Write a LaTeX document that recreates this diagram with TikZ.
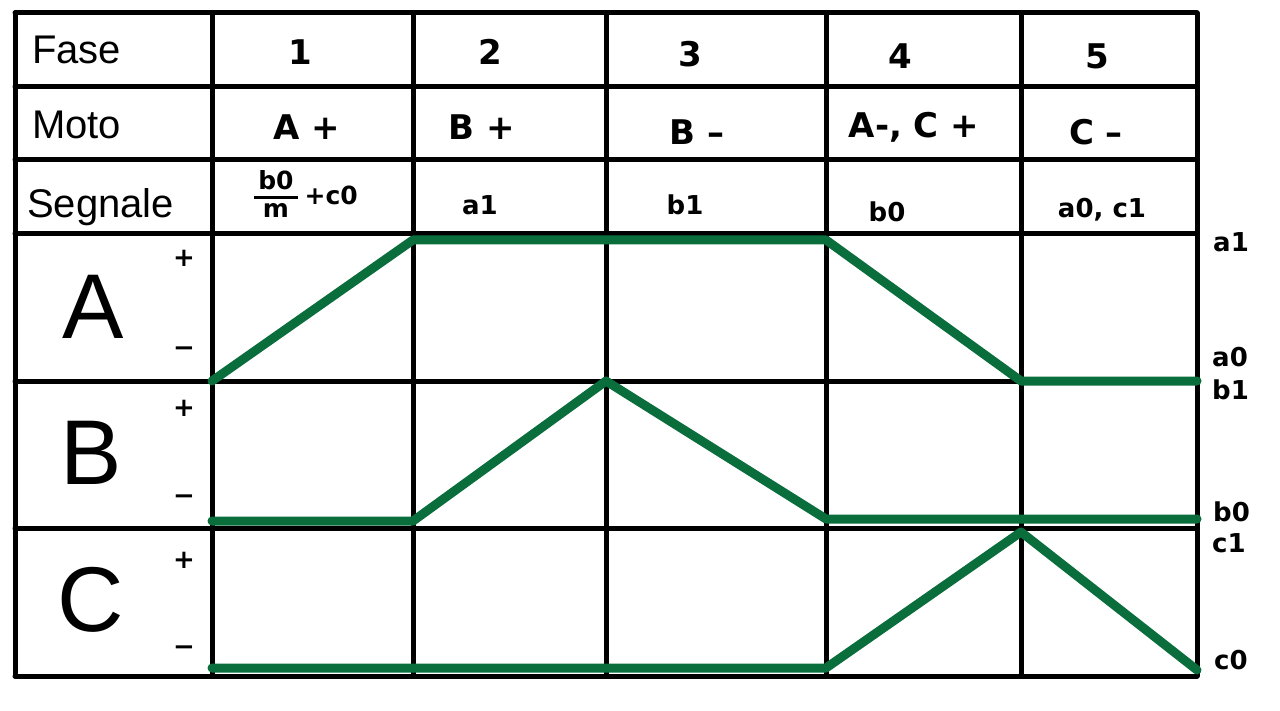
\documentclass[tikz,border=0pt]{standalone}
\usepackage{fontspec}
\setmainfont{Liberation Sans}
\newfontfamily\hand{DejaVu Sans}
\definecolor{lgreen}{RGB}{10,110,60}
\begin{document}
\begin{tikzpicture}[x=1pt,y=-1pt,
  grid/.style={line width=5pt,line cap=round},
  sig/.style={draw=lgreen,line width=9pt,line cap=round,line join=round},
  typed/.style={font=\fontsize{40}{44}\selectfont,inner sep=0pt},
  big/.style={font=\fontsize{92}{96}\selectfont,inner sep=0pt},
  hw/.style={font=\hand\bfseries\fontsize{34}{38}\selectfont,inner sep=0pt},
  hws/.style={font=\hand\bfseries\fontsize{26}{30}\selectfont,inner sep=0pt},
  pm/.style={font=\hand\bfseries\fontsize{26}{30}\selectfont,inner sep=0pt}]
\useasboundingbox[fill=white] (0,0) rectangle (1280,711);
% grid
\foreach \x in {15,212,413,606,826,1021,1197} \draw[grid] (\x,13) -- (\x,676);
\foreach \y in {13,87,160,234,381,528,676} \draw[grid] (15,\y) -- (1197,\y);
% row labels
\node[typed,anchor=west] (fase) at (32,50) {Fase};
\node[typed,anchor=west] (moto) at (32,125) {Moto};
\node[typed,anchor=west] (segn) at (27,207) {Segnale};
\node[big] (la) at (93,307) {A};
\node[big] (lb) at (91,453) {B};
\node[big] (lc) at (91,600) {C};
% + / -
\node[pm] (ap) at (184,258) {+};
\node[pm] (am) at (184,352) {−};
\node[pm] (bp) at (184,408) {+};
\node[pm] (bm) at (184,500) {−};
\node[pm] (cp) at (184,560) {+};
\node[pm] (cm) at (184,651) {−};
% phases
\node[hw] (f1) at (300,52) {1};
\node[hw] (f2) at (490,52) {2};
\node[hw] (f3) at (690,54) {3};
\node[hw] (f4) at (900,56) {4};
\node[hw] (f5) at (1097,56) {5};
% moto
\node[hw] (m1) at (307,127) {A +};
\node[hw] (m2) at (482,127) {B +};
\node[hw] (m3) at (697,132) {B –};
\node[hw] (m4) at (914,127) {A-, C +};
\node[hw] (m5) at (1096,132) {C –};
% segnali
\node[hws,font=\hand\bfseries\fontsize{25}{25}\selectfont] (s1) at (306,198)
  {\setlength\arrayrulewidth{3.5pt}\renewcommand\arraystretch{1.05}\begin{tabular}{@{\,}c@{\,}}b0\\[-2pt]\hline m\end{tabular}\;+c0};
\node[hws] (s2) at (480,205) {a1};
\node[hws] (s3) at (685,205) {b1};
\node[hws] (s4) at (887,212) {b0};
\node[hws] (s5) at (1102,210) {a0, c1};
% right labels
\node[hws,anchor=west] (ra1) at (1213,242) {a1};
\node[hws,anchor=west] (ra0) at (1212,357) {a0};
\node[hws,anchor=west] (rb1) at (1212,390) {b1};
\node[hws,anchor=west] (rb0) at (1213,512) {b0};
\node[hws,anchor=west] (rc1) at (1212,543) {c1};
\node[hws,anchor=west] (rc0) at (1214,660) {c0};
% signal coordinates
\coordinate (A0) at (212,381); \coordinate (A1) at (413,240);
\coordinate (A2) at (826,240); \coordinate (A3) at (1021,381);
\coordinate (A4) at (1197,381);
\coordinate (B0) at (212,521); \coordinate (B1) at (413,521);
\coordinate (B2) at (606,381); \coordinate (B3) at (826,519);
\coordinate (B4) at (1197,519);
\coordinate (C0) at (212,668); \coordinate (C1) at (826,668);
\coordinate (C2) at (1021,532); \coordinate (C3) at (1197,670);
\draw[sig] (A0) -- (A1) -- (A2) -- (A3) -- (A4);
\draw[sig] (B0) -- (B1) -- (B2) -- (B3) -- (B4);
\draw[sig] (C0) -- (C1) -- (C2) -- (C3);
\end{tikzpicture}
\end{document}
